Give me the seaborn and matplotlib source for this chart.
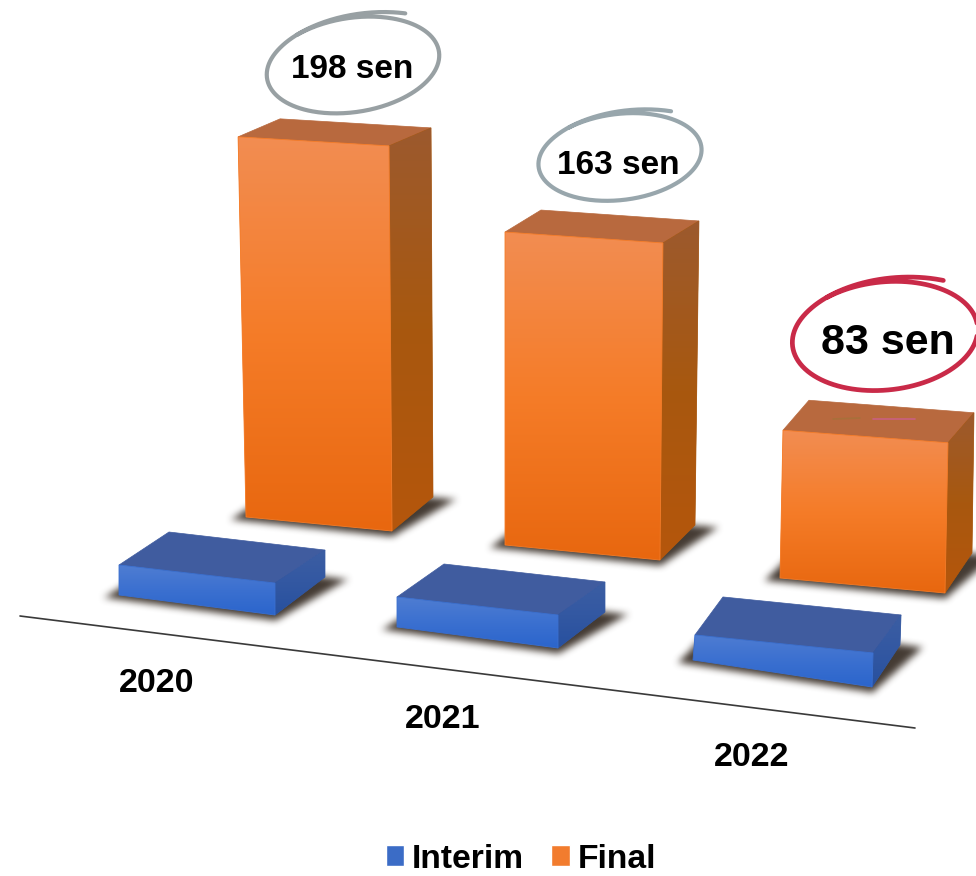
import numpy as np
import pandas as pd
import matplotlib
matplotlib.use("Agg")
import matplotlib.pyplot as plt
import seaborn as sns
from matplotlib.colors import LinearSegmentedColormap, to_rgb
from matplotlib.patches import Polygon
from matplotlib.transforms import Transform

# ---- data ----
YEARS = ["2020", "2021", "2022"]
SERIES = ["Interim", "Final"]
INTERIM = [15, 15, 15]
FINAL = [198, 163, 83]
LABELS = ["198 sen", "163 sen", "83 sen"]

# ---- perspective layout of the source picture (pixels, y down) ----
W, H = 976, 876
GEOM = {
    "Final": dict(
        bl=[(246, 517), (505, 545), (780, 578)],
        br=[(392, 531), (660, 560), (945, 593)],
        up_l=[(-.040, 1.92), (0, 1.92), (.036, 1.78)],
        up_r=[(-.015, 1.945), (.018, 1.945), (.036, 1.81)],
        dtop=[(42, -18), (36, -22), (26, -30)],
        dbot=[(41, -34), (35, -35), (27, -40)],
        front=["#F28D52", "#F57C28", "#E8670F"],
        side=["#9C5A2E", "#A8580F", "#B5560C"],
        top="#B8693E",
    ),
    "Interim": dict(
        bl=[(119, 595), (397, 627), (693, 660)],
        br=[(275, 615), (558, 648), (872, 687)],
        up_l=[(0, 2.0), (0, 2.0), (.13, 1.67)],
        up_r=[(0, 2.13), (0, 2.2), (.07, 2.27)],
        dtop=[(50, -33), (47, -33), (28, -38)],
        dbot=[(50, -38), (47, -36), (28, -42)],
        front=["#4F7DD2", "#3B70D0", "#2B65CC"],
        side=["#3C5EA3", "#3358A2", "#27509F"],
        top="#405C9F",
    ),
}
LEGEND_COLORS = {"Interim": "#3B6CC6", "Final": "#F27C2E"}
YEAR_POS = [(157, 683), (443, 719), (752, 757)]
LABEL_POS = [(352, 69), (618, 165), (888, 343)]
LABEL_SIZE = [24, 24, 31]
# loop: centre, semi-axes, tilt (deg), colour, width
LOOPS = [
    ((353, 65), (87, 47), -9, "#98A0A3", 3.0),
    ((620, 157), (82, 43), -7, "#98A6AC", 3.0),
    ((885, 336), (93, 54), -6, "#C92A48", 3.4),
]
AXIS_LINE = ([20, 915], [616, 728])
FONT = "Liberation Sans"


class BarProjection(Transform):
    """Maps one bar's (category, value) space onto its perspective front face."""
    input_dims = output_dims = 2
    has_inverse = False

    def __init__(self, x0, width, bl, br, up_l, up_r):
        super().__init__()
        self.x0, self.width = x0, width
        self.bl, self.br = np.array(bl, float), np.array(br, float)
        self.up_l, self.up_r = np.array(up_l, float), np.array(up_r, float)

    def transform_non_affine(self, values):
        v = np.asarray(values, float)
        s = ((v[:, 0] - self.x0) / self.width)[:, None]
        y = v[:, 1:2]
        base = self.bl * (1 - s) + self.br * s
        rise = self.up_l * (1 - s) + self.up_r * s
        return base + y * rise * np.array([1.0, -1.0])


def vgrad(name, colors):
    return LinearSegmentedColormap.from_list(name, colors)


def box_blur(a, r, passes=3):
    k = np.ones(2 * r + 1) / (2 * r + 1)
    for _ in range(passes):
        a = np.apply_along_axis(lambda m: np.convolve(m, k, mode="same"), 0, a)
        a = np.apply_along_axis(lambda m: np.convolve(m, k, mode="same"), 1, a)
    return a


def draw_shadow(axis, quad, color="#3A3028", peak=0.95, blur=3, pad=20):
    """Blurred convex quad drawn as an RGBA image."""
    quad = np.asarray(quad, float)
    x0, y0 = quad.min(axis=0) - pad
    x1, y1 = quad.max(axis=0) + pad
    xs, ys = np.meshgrid(np.arange(x0, x1), np.arange(y0, y1))
    inside = np.ones_like(xs, bool)
    area = 0.0
    for a, b in zip(quad, np.roll(quad, -1, axis=0)):
        area += a[0] * b[1] - b[0] * a[1]
    sign = np.sign(area)
    for a, b in zip(quad, np.roll(quad, -1, axis=0)):
        cross = (b[0] - a[0]) * (ys - a[1]) - (b[1] - a[1]) * (xs - a[0])
        inside &= cross * sign >= 0
    alpha = box_blur(inside.astype(float), blur) * peak
    rgba = np.zeros(alpha.shape + (4,))
    rgba[..., :3] = to_rgb(color)
    rgba[..., 3] = alpha
    axis.imshow(rgba, extent=(x0, x1, y1, y0), aspect="auto", zorder=1,
                interpolation="bilinear")


df = pd.DataFrame({
    "year": YEARS * 2,
    "series": ["Interim"] * 3 + ["Final"] * 3,
    "value": INTERIM + FINAL,
})

sns.set_theme(style="white")
fig = plt.figure(figsize=(W / 100, H / 100), dpi=100, facecolor="white")
ax = fig.add_axes([0, 0, 1, 1], zorder=1)
sns.barplot(data=df, x="year", y="value", hue="series", order=YEARS,
            hue_order=SERIES, palette=LEGEND_COLORS, dodge=False, width=0.6,
            saturation=1, ax=ax)
ax.set_axis_off()

pix = fig.add_axes([0, 0, 1, 1], zorder=2)
pix.patch.set_alpha(0)
pix.set_axis_off()

for name, container in zip(SERIES, ax.containers):
    g = GEOM[name]
    cmap_f = vgrad(name + "f", g["front"])
    cmap_s = vgrad(name + "s", g["side"])
    for i, bar in enumerate(container):
        x0, w, v = bar.get_x(), bar.get_width(), bar.get_height()
        proj = BarProjection(x0, w, g["bl"][i], g["br"][i], g["up_l"][i], g["up_r"][i])
        bar.set_transform(proj + pix.transData)
        bar.set_clip_on(False)
        bar.set_edgecolor("none")
        corners = proj.transform_non_affine(
            np.array([[x0, v], [x0 + w, v], [x0 + w, 0], [x0, 0]]))
        tl, tr, br, bl = corners
        dt, db = np.array(g["dtop"][i]), np.array(g["dbot"][i])

        # soft ground shadow
        draw_shadow(pix, [bl + (-15, 2), br + (0, 5), br + db + (22, 2), bl + db + (-2, 0)])

        # top and right faces
        pix.add_patch(Polygon([tl, tr, tr + dt, tl + dt], closed=True,
                              facecolor=g["top"], edgecolor=g["top"], lw=0.5, zorder=2))
        side = np.array([tr, tr + dt, br + db, br])
        side_poly = Polygon(side, closed=True, transform=pix.transData)
        pix.add_patch(Polygon(side, closed=True, facecolor=g["side"][1],
                              edgecolor=g["side"][1], lw=0.5, zorder=2))
        im = pix.imshow(np.linspace(0, 1, 256)[:, None], cmap=cmap_s, aspect="auto",
                        extent=(side[:, 0].min(), side[:, 0].max(),
                                side[:, 1].max(), side[:, 1].min()),
                        zorder=3, interpolation="bilinear")
        im.set_clip_path(side_poly)

        # front face gradient, painted over the seaborn bar
        front_poly = Polygon(corners, closed=True, transform=pix.transData)
        im = pix.imshow(np.linspace(0, 1, 256)[:, None], cmap=cmap_f, aspect="auto",
                        extent=(corners[:, 0].min(), corners[:, 0].max(),
                                corners[:, 1].max(), corners[:, 1].min()),
                        zorder=4, interpolation="bilinear")
        im.set_clip_path(front_poly)
        pix.add_patch(Polygon(corners, closed=True, facecolor="none",
                              edgecolor=g["front"][1], lw=0.6, zorder=4.5))

# baseline
pix.plot(*AXIS_LINE, color="#3A3A3A", lw=1.2, zorder=5)

# faint coloured streak on the 2022 bar top
pix.plot([873, 915], [419, 419], color="#C9607F", lw=1.2, zorder=5)
pix.plot([833, 860], [419, 418], color="#A8703A", lw=1.2, zorder=5)

# hand-drawn loops around the labels
for (c, r, tilt, col, lw) in LOOPS:
    th = np.radians(np.linspace(-125, 255 + 52, 400))
    frac = np.linspace(0, 1, 400)
    grow = 1 + 0.14 * np.clip((frac - 0.78) / 0.22, 0, 1) ** 2 + 0.03 * (0.15 - frac).clip(0)
    ex, ey = r[0] * grow * np.cos(th), r[1] * grow * np.sin(th)
    t = np.radians(tilt)
    pix.plot(c[0] + ex * np.cos(t) - ey * np.sin(t),
             c[1] + ex * np.sin(t) + ey * np.cos(t),
             color=col, lw=lw, solid_capstyle="round", zorder=6, clip_on=True)

for (x, y), s, fs in zip(LABEL_POS, LABELS, LABEL_SIZE):
    pix.text(x, y, s, ha="center", va="center", family=FONT, weight="bold",
             fontsize=fs, color="black", zorder=7)
for (x, y), s in zip(YEAR_POS, YEARS):
    pix.text(x, y, s, ha="center", va="center", family=FONT, weight="bold",
             fontsize=24.5, color="black", zorder=7)

pix.set_xlim(0, W)
pix.set_ylim(H, 0)

sns.move_legend(ax, "center", bbox_to_anchor=(521 / W, 1 - 859 / H), ncol=2,
                frameon=False, title=None, handlelength=0.55, handleheight=0.55,
                handletextpad=0.24, columnspacing=0.8, borderpad=0,
                prop=dict(family=FONT, weight="bold", size=24.2))
for t in ax.get_legend().get_texts():
    t.set_color("black")

fig.savefig("out.png", dpi=100, facecolor="white")
